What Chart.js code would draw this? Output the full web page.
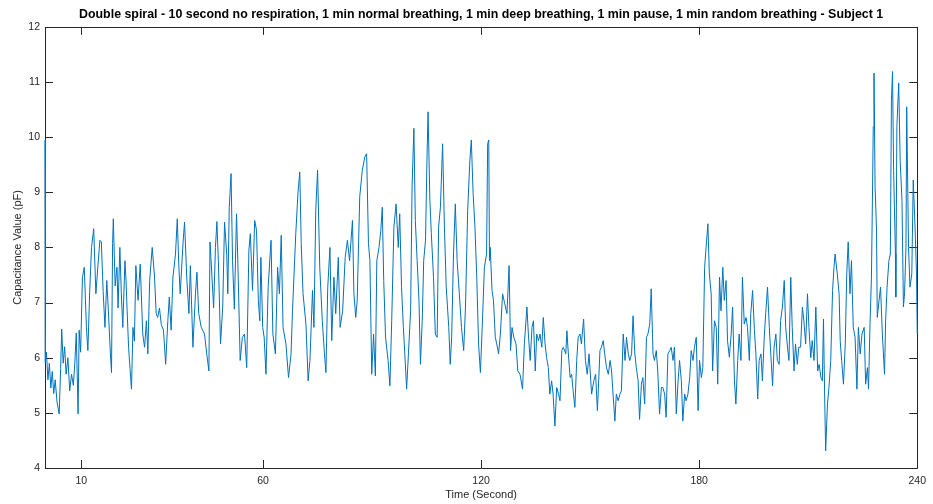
<!DOCTYPE html>
<html lang="en">
<head>
  <meta charset="UTF-8" />
  <title>Double spiral - Subject 1</title>
  <script src="https://cdn.jsdelivr.net/npm/chart.js"></script>
  <style>
    html, body { margin: 0; padding: 0; background: #fff; }
  </style>
</head>
<body>
  <canvas id="spiralChart" width="933" height="504"></canvas>

  <script>
    // time in seconds
    const timeSec = [
      0, 0.1, 0.4, 0.8, 1.2, 1.6, 2.0, 2.4, 2.8, 3.3,
      3.9, 4.3, 4.6, 5.0, 5.4, 5.8, 6.3, 6.8, 7.3, 7.8,
      8.2, 8.6, 9.1, 9.4, 9.8, 10.3, 10.8, 11.4, 11.8, 12.3,
      12.8, 13.4, 14.0, 14.6, 15.1, 15.5, 16.0, 16.5, 17.0, 17.4,
      18.0, 18.3, 18.6, 18.8, 19.3, 19.8, 20.1, 20.6, 21.0, 21.4,
      22.0, 22.3, 22.6, 23.0, 23.4, 23.8, 24.2, 24.6, 25.0, 25.6,
      26.2, 26.9, 27.4, 27.9, 28.3, 28.8, 29.5, 30.1, 30.6, 31.0,
      31.5, 32.0, 32.6, 33.2, 33.8, 34.2, 34.7, 35.2, 35.9, 36.4,
      36.8, 37.2, 38.0, 38.4, 39.0, 39.6, 40.0, 40.7, 41.4, 41.8,
      42.3, 43.0, 43.9, 44.5, 45.1, 45.4, 45.9, 46.4, 46.9, 47.3,
      47.7, 48.3, 48.9, 49.4, 50.0, 50.3, 50.7, 51.2, 51.6, 52.1,
      52.7, 53.1, 53.7, 54.3, 54.9, 55.5, 56.1, 56.5, 57.1, 57.7,
      58.2, 58.7, 59.1, 59.4, 59.9, 60.3, 60.8, 61.4, 62.2, 62.7,
      63.4, 64.0, 64.5, 65.0, 65.5, 66.3, 67.0, 67.7, 68.1, 69.0,
      69.6, 70.1, 70.5, 71.0, 71.8, 72.4, 72.9, 73.6, 74.0, 74.5,
      75.0, 75.6, 76.3, 76.9, 77.3, 77.8, 78.4, 78.9, 79.5, 80.0,
      80.7, 81.2, 81.9, 82.6, 83.2, 83.8, 84.6, 85.0, 85.5, 85.9,
      86.6, 87.3, 88.0, 88.5, 89.0, 89.4, 89.9, 90.4, 90.9, 91.3,
      91.9, 92.4, 92.8, 93.2, 93.7, 94.4, 94.9, 95.4, 96.0, 96.6,
      97.2, 97.6, 98.1, 98.6, 99.0, 99.5, 100.0, 100.6, 101.0, 101.5,
      101.9, 102.4, 102.9, 103.3, 103.8, 104.2, 104.7, 105.1, 105.4, 105.9,
      106.3, 106.9, 107.4, 107.9, 108.3, 108.8, 109.4, 109.9, 110.4, 111.1,
      111.5, 111.9, 112.4, 112.9, 113.4, 114.0, 114.6, 115.2, 115.7, 116.3,
      116.9, 117.3, 117.8, 118.3, 118.8, 119.3, 119.8, 120.3, 120.9, 121.5,
      121.8, 122.1, 122.3, 122.5, 123.0, 123.4, 123.9, 124.3, 124.8, 125.3,
      125.9, 126.5, 127.1, 127.7, 128.1, 128.5, 129.0, 129.6, 130.1, 130.7,
      131.4, 131.9, 132.6, 133.0, 133.5, 134.0, 134.4, 134.9, 135.3, 135.8,
      136.2, 136.7, 137.1, 137.6, 138.0, 138.5, 138.9, 139.4, 139.8, 140.3,
      140.8, 141.3, 141.7, 142.2, 142.6, 143.3, 143.6, 144.0, 144.5, 144.9,
      145.4, 145.8, 146.3, 146.7, 147.2, 147.6, 148.2, 148.7, 149.2, 149.7,
      150.4, 151.0, 151.5, 152.0, 152.7, 153.1, 153.6, 154.0, 154.5, 155.0,
      155.5, 155.9, 156.3, 156.8, 157.2, 157.7, 158.2, 158.6, 159.1, 159.6,
      160.0, 160.5, 160.9, 161.4, 161.8, 162.3, 162.7, 163.2, 163.6, 164.1,
      164.5, 165.0, 165.5, 165.9, 166.4, 166.8, 167.3, 167.7, 168.2, 168.6,
      169.1, 169.6, 170.0, 170.5, 170.9, 171.4, 171.9, 172.3, 172.8, 173.2,
      173.7, 174.2, 174.6, 175.1, 175.5, 176.0, 176.4, 176.9, 177.4, 177.8,
      178.3, 178.7, 179.2, 179.7, 180.1, 180.6, 181.0, 181.5, 181.9, 182.4,
      182.8, 183.3, 183.7, 184.2, 184.7, 185.1, 185.6, 186.0, 186.5, 186.9,
      187.4, 187.8, 188.3, 188.8, 189.2, 189.7, 190.1, 190.6, 191.0, 191.5,
      191.9, 192.4, 192.9, 193.3, 193.8, 194.2, 194.7, 195.2, 195.6, 196.1,
      196.5, 197.0, 197.4, 197.9, 198.3, 198.8, 199.3, 199.7, 200.2, 200.6,
      201.1, 201.5, 202.0, 202.4, 202.9, 203.4, 203.8, 204.3, 204.7, 205.2,
      205.6, 206.1, 206.5, 207.0, 207.4, 207.9, 208.4, 208.8, 209.3, 209.8,
      210.2, 210.7, 211.1, 211.6, 212.1, 212.6, 213.0, 213.5, 213.9, 214.2,
      214.5, 214.8, 215.3, 215.7, 216.2, 216.7, 217.1, 217.4, 218.0, 218.5,
      218.8, 219.2, 219.7, 220.2, 220.6, 221.0, 221.5, 221.9, 222.4, 222.9,
      223.4, 223.8, 224.3, 224.8, 225.4, 225.8, 226.3, 226.6, 227.0, 227.4,
      227.7, 227.9, 228.1, 228.4, 228.8, 229.0, 229.5, 229.9, 230.4, 231.0,
      231.3, 231.7, 232.2, 232.6, 232.9, 233.2, 233.5, 234.0, 234.1, 234.4,
      234.9, 235.3, 235.8, 236.2, 236.5, 236.9, 237.1, 237.6, 238.0, 238.5,
      238.9, 239.4, 239.8, 240
    ];

    // capacitance in pF, one per time value
    const capacitance = [
      9.95, 5.9, 6.1, 5.6, 5.9, 5.45, 5.75, 5.35, 5.6, 5.2,
      4.98, 5.8, 6.52, 5.9, 6.2, 5.7, 6.0, 5.4, 5.7, 5.5,
      5.9, 6.45, 4.98, 6.5, 6.1, 7.46, 7.64, 6.55, 6.13, 7.2,
      8.0, 8.34, 7.16, 7.7, 8.13, 8.1, 7.2, 6.55, 7.4, 6.9,
      6.07, 5.73, 8.07, 8.52, 7.3, 7.64, 6.9, 8.0, 7.16, 6.55,
      7.76, 7.4, 6.85, 6.19, 5.8, 5.43, 6.55, 6.3, 7.67, 7.04,
      7.7, 6.43, 6.19, 6.67, 6.07, 7.4, 8.0, 7.5, 6.8, 6.73,
      6.9, 6.6, 6.5, 5.88, 6.67, 7.1, 6.5, 7.46, 7.88, 8.52,
      7.7, 7.16, 8.1, 8.46, 7.46, 6.8, 7.67, 6.19, 7.16, 7.55,
      6.8, 6.55, 6.43, 6.07, 5.76, 8.1, 7.52, 6.9, 8.0, 8.47,
      7.76, 6.25, 6.92, 8.46, 7.88, 7.16, 8.73, 9.34, 7.76, 6.88,
      8.61, 7.64, 5.95, 6.37, 6.43, 5.82, 7.95, 8.25, 7.22, 8.49,
      8.31, 7.04, 6.67, 7.82, 6.55, 6.37, 5.7, 7.28, 8.13, 6.43,
      6.07, 7.64, 7.16, 8.22, 6.55, 6.25, 5.64, 6.07, 6.85, 8.25,
      8.98, 9.37, 8.07, 7.16, 6.61, 5.58, 5.95, 7.22, 6.55, 8.67,
      9.4, 7.64, 6.67, 6.07, 5.73, 7.28, 8.0, 6.31, 7.46, 6.8,
      7.82, 6.55, 6.85, 7.82, 8.13, 7.76, 8.49, 7.16, 6.73, 7.04,
      8.92, 9.4, 9.64, 9.7, 8.07, 7.76, 5.7, 6.43, 5.67, 7.76,
      8.0, 8.31, 8.73, 7.4, 6.37, 5.95, 5.49, 6.67, 8.37, 8.79,
      8.0, 8.61, 7.28, 6.55, 6.07, 5.43, 6.07, 6.85, 9.1, 10.16,
      8.49, 7.76, 7.04, 5.88, 6.67, 7.76, 8.13, 9.58, 10.46, 8.85,
      8.25, 7.46, 6.43, 6.37, 8.37, 8.73, 9.88, 8.37, 7.28, 6.55,
      5.88, 6.37, 7.88, 8.79, 7.76, 7.16, 6.55, 6.13, 6.92, 8.67,
      9.58, 9.95, 8.98, 8.37, 7.46, 6.25, 5.73, 6.55, 7.64, 7.88,
      9.88, 9.95, 7.76, 8.0, 7.22, 7.04, 6.37, 6.25, 6.07, 6.43,
      7.16, 6.98, 6.8, 7.67, 6.13, 6.55, 6.37, 6.25, 5.76, 5.7,
      5.43, 6.25, 6.92, 6.43, 5.95, 6.55, 6.67, 5.76, 6.43, 6.31,
      6.43, 6.19, 6.73, 6.25, 6.01, 5.82, 5.34, 5.58, 5.34, 4.76,
      5.46, 5.34, 5.22, 6.13, 6.19, 6.07, 6.49, 6.07, 5.64, 5.7,
      5.34, 5.1, 5.95, 6.37, 6.43, 6.25, 6.7, 5.95, 5.7, 6.07,
      5.34, 5.58, 5.7, 5.04, 6.13, 6.19, 6.31, 6.07, 5.82, 5.7,
      5.95, 5.76, 5.34, 4.85, 5.34, 5.22, 5.34, 5.4, 6.43, 5.95,
      6.37, 6.07, 5.95, 6.07, 6.76, 6.07, 5.82, 5.58, 4.88, 5.52,
      5.64, 5.16, 6.37, 6.43, 6.61, 7.25, 6.07, 5.95, 6.13, 5.76,
      4.98, 5.46, 5.46, 5.34, 4.92, 6.07, 6.13, 6.19, 5.95, 6.19,
      4.98, 5.58, 5.95, 5.58, 4.85, 5.34, 5.22, 5.34, 5.64, 6.13,
      5.95, 6.19, 6.37, 5.04, 5.95, 5.64, 5.82, 7.64, 8.0, 8.43,
      7.52, 7.16, 5.76, 6.67, 6.55, 5.52, 7.46, 6.85, 7.64, 7.04,
      7.4, 6.31, 6.01, 6.43, 6.92, 5.58, 5.16, 5.95, 6.43, 5.95,
      7.46, 6.61, 6.73, 6.55, 5.95, 6.8, 7.22, 6.49, 6.07, 5.25,
      5.95, 6.07, 5.58, 6.37, 6.8, 7.28, 6.55, 6.07, 5.49, 6.19,
      6.43, 5.95, 5.88, 6.67, 6.92, 7.4, 6.55, 6.19, 5.95, 7.46,
      6.55, 5.76, 6.25, 5.88, 6.19, 6.19, 6.92, 6.67, 6.25, 7.16,
      6.55, 6.0, 6.31, 5.95, 6.92, 5.76, 5.88, 5.64, 5.58, 6.7,
      5.4, 4.31, 5.16, 5.46, 5.95, 7.22, 7.64, 7.88, 7.52, 7.16,
      6.31, 5.95, 5.52, 6.25, 7.52, 8.1, 7.16, 7.76, 6.55, 6.37,
      5.43, 6.55, 6.07, 6.43, 6.55, 5.52, 5.82, 5.43, 6.61, 7.46,
      9.04, 10.19, 11.16, 9.1, 8.31, 6.73, 7.04, 7.28, 6.43, 5.7,
      6.67, 7.28, 7.76, 7.88, 10.67, 11.19, 9.4, 7.88, 7.1, 10.19,
      10.98, 9.58, 8.85, 6.92, 7.16, 8.0, 10.55, 8.0, 7.28, 7.52,
      9.22, 8.37, 7.52, 6.43
    ];

    const xTicks = [10, 60, 120, 180, 240];
    const yTicks = [4, 5, 6, 7, 8, 9, 10, 11, 12];

    const axisColor = '#262626';
    const fontFamily = '"Liberation Sans", Arial, Helvetica, sans-serif';

    // matlab style box: full border with inward tick marks
    const boxPlugin = {
      id: 'matlabBox',
      beforeDatasetsDraw(chart) {
        const { ctx, chartArea: a, scales: { x, y } } = chart;
        const len = 8;
        ctx.save();
        ctx.strokeStyle = axisColor;
        ctx.lineWidth = 1;
        ctx.beginPath();
        ctx.rect(Math.round(a.left) + 0.5, Math.round(a.top) + 0.5,
                 Math.round(a.right - a.left), Math.round(a.bottom - a.top));
        xTicks.forEach(t => {
          const px = Math.round(x.getPixelForValue(t)) + 0.5;
          ctx.moveTo(px, a.bottom); ctx.lineTo(px, a.bottom - len);
          ctx.moveTo(px, a.top); ctx.lineTo(px, a.top + len);
        });
        yTicks.forEach(v => {
          const py = Math.round(y.getPixelForValue(v)) + 0.5;
          ctx.moveTo(a.left, py); ctx.lineTo(a.left + len, py);
          ctx.moveTo(a.right, py); ctx.lineTo(a.right - len, py);
        });
        ctx.stroke();
        ctx.restore();
      }
    };

    new Chart(document.getElementById('spiralChart'), {
      type: 'line',
      data: {
        datasets: [{
          label: 'Capacitance',
          data: timeSec.map((t, i) => ({ x: t, y: capacitance[i] })),
          borderColor: '#0072BD',
          borderWidth: 1,
          pointRadius: 0,
          tension: 0,
          fill: false,
          clip: 2
        }]
      },
      options: {
        responsive: false,
        animation: false,
        layout: { padding: { left: 0, right: 13, top: 0, bottom: 0 } },
        plugins: {
          legend: { display: false },
          tooltip: { enabled: false },
          title: {
            display: true,
            fullSize: false,
            text: 'Double spiral - 10 second no respiration, 1 min normal breathing, 1 min deep breathing, 1 min pause, 1 min random breathing - Subject 1',
            color: '#000',
            font: { family: fontFamily, size: 12.4, weight: 'bold' },
            padding: { top: 7, bottom: 5 }
          }
        },
        scales: {
          x: {
            type: 'linear',
            min: 0,
            max: 240,
            afterBuildTicks: s => { s.ticks = xTicks.map(v => ({ value: v })); },
            afterFit: s => { s.height = 36; },
            grid: { display: false, drawTicks: false },
            border: { display: false },
            ticks: {
              color: axisColor,
              font: { family: fontFamily, size: 10.5 },
              padding: 7,
              maxRotation: 0
            },
            title: {
              display: true,
              text: 'Time (Second)',
              color: axisColor,
              font: { family: fontFamily, size: 11 },
              padding: { top: 0, bottom: 2 }
            }
          },
          y: {
            type: 'linear',
            min: 4,
            max: 12,
            afterBuildTicks: s => { s.ticks = yTicks.map(v => ({ value: v })); },
            afterFit: s => { s.width = 45; },
            grid: { display: false, drawTicks: false },
            border: { display: false },
            ticks: {
              color: axisColor,
              font: { family: fontFamily, size: 10.5 },
              padding: 5
            },
            title: {
              display: true,
              text: 'Capacitance Value (pF)',
              color: axisColor,
              font: { family: fontFamily, size: 11 },
              padding: { top: 11, bottom: 0 }
            }
          }
        }
      },
      plugins: [boxPlugin]
    });
  </script>
</body>
</html>
